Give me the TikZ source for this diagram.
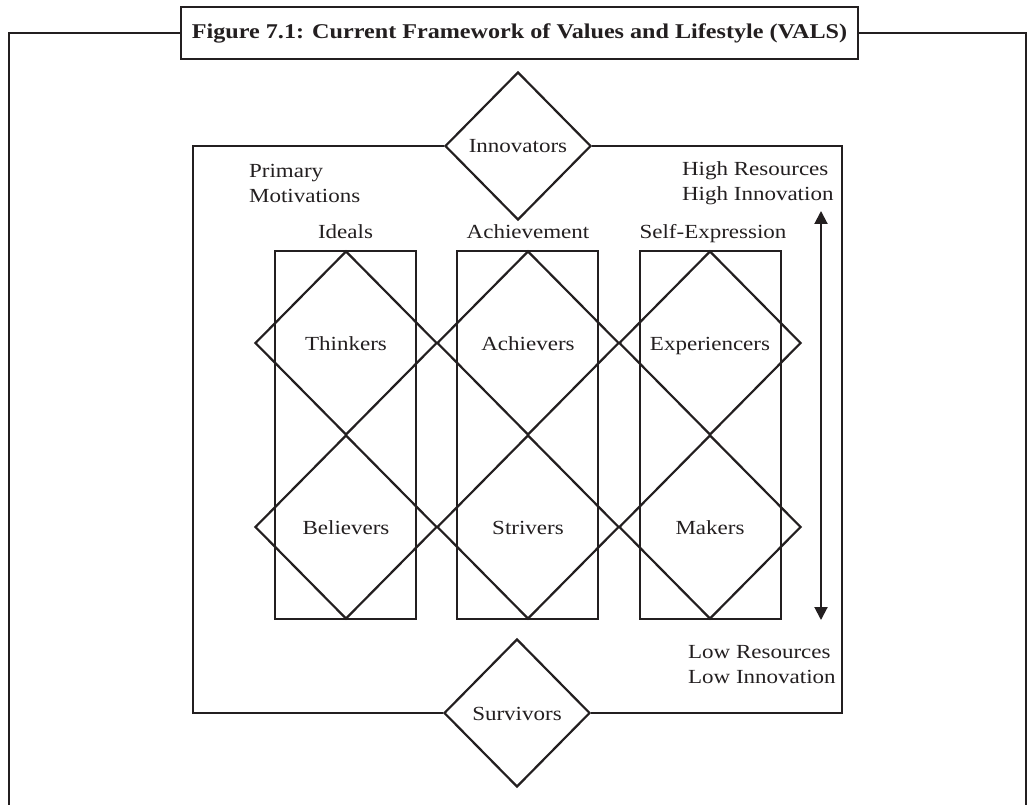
\documentclass[tikz,border=0pt]{standalone}
\usepackage{fontspec}
\setmainfont{Liberation Serif}[FakeStretch=1.15]
\usetikzlibrary{shapes.geometric,arrows.meta}
\definecolor{ink}{RGB}{35,31,32}
\begin{document}
\begin{tikzpicture}[x=1pt,y=-1pt,
  line width=2.2pt,
  lbl/.style={font=\fontsize{20}{25}\selectfont, text=ink, inner sep=0pt},
  dia/.style={shape=diamond, draw=ink, line width=2.2pt, inner sep=0pt,
    minimum width=182pt, minimum height=184pt, text height=14pt, text depth=0pt,
    font=\fontsize{20}{25}\selectfont, text=ink},
  bigdia/.style={dia, minimum width=146pt, minimum height=148pt, fill=white},
  colbox/.style={draw=ink, line width=2.2pt, minimum width=141pt, minimum height=368pt, inner sep=0pt},
  frame/.style={draw=ink, line width=2.2pt},
  titlebox/.style={draw=ink, line width=2.4pt, fill=white, minimum width=677pt, minimum height=52pt,
    inner sep=0pt, font=\fontsize{21}{25}\selectfont\bfseries, text=ink}
  ]
\useasboundingbox (0,0) rectangle (1028,805);

% outer frame and title
\node[titlebox] (title) at (519.5,33) {Figure 7.1: Current Framework of Values and Lifestyle (VALS)};
\coordinate (otl) at (9,33);
\coordinate (obl) at (9,808);
\coordinate (otr) at (1026,33);
\coordinate (obr) at (1026,808);
\draw[frame, line width=2.4pt] (title.west) -- (otl) -- (obl);
\draw[frame, line width=2.4pt] (title.east) -- (otr) -- (obr);

% column boxes
\node[colbox] (cideal) at (345.5,435) {};
\node[colbox] (cach) at (527.5,435) {};
\node[colbox] (cself) at (710.5,435) {};

% diamonds
\node[dia] (thinkers) at (346,343) {Thinkers};
\node[dia] (achievers) at (528,343) {Achievers};
\node[dia] (experiencers) at (710,343) {Experiencers};
\node[dia] (believers) at (346,527) {Believers};
\node[dia] (strivers) at (528,527) {Strivers};
\node[dia] (makers) at (710,527) {Makers};

\node[bigdia] (innov) at (518,146) {Innovators};
\node[bigdia] (surv) at (517,713) {Survivors};

% inner frame
\coordinate (itl) at (193,146);
\coordinate (ibl) at (193,713);
\coordinate (itr) at (842,146);
\coordinate (ibr) at (842,713);
\draw[frame] (innov.west) -- (itl) -- (ibl) -- (surv.west);
\draw[frame] (innov.east) -- (itr) -- (ibr) -- (surv.east);

% labels (base anchor = last line's baseline)
\node[lbl, anchor=base west, align=left] (prim) at (248,203) {Primary\\Motivations};
\node[lbl, anchor=base] (lideal) at (345.5,238) {Ideals};
\node[lbl, anchor=base] (lach) at (528,238) {Achievement};
\node[lbl, anchor=base] (lself) at (713,238) {Self-Expression};
\node[lbl, anchor=base west, align=left] (high) at (681,201) {High Resources\\High Innovation};
\node[lbl, anchor=base west, align=left] (low) at (687,683) {Low Resources\\Low Innovation};

% arrow
\coordinate (ahi) at (821,211);
\coordinate (alo) at (821,620);
\draw[draw=ink, line width=2pt, {Triangle[width=13pt,length=13pt]}-{Triangle[width=13pt,length=13pt]}] (ahi) -- (alo);
\end{tikzpicture}
\end{document}
